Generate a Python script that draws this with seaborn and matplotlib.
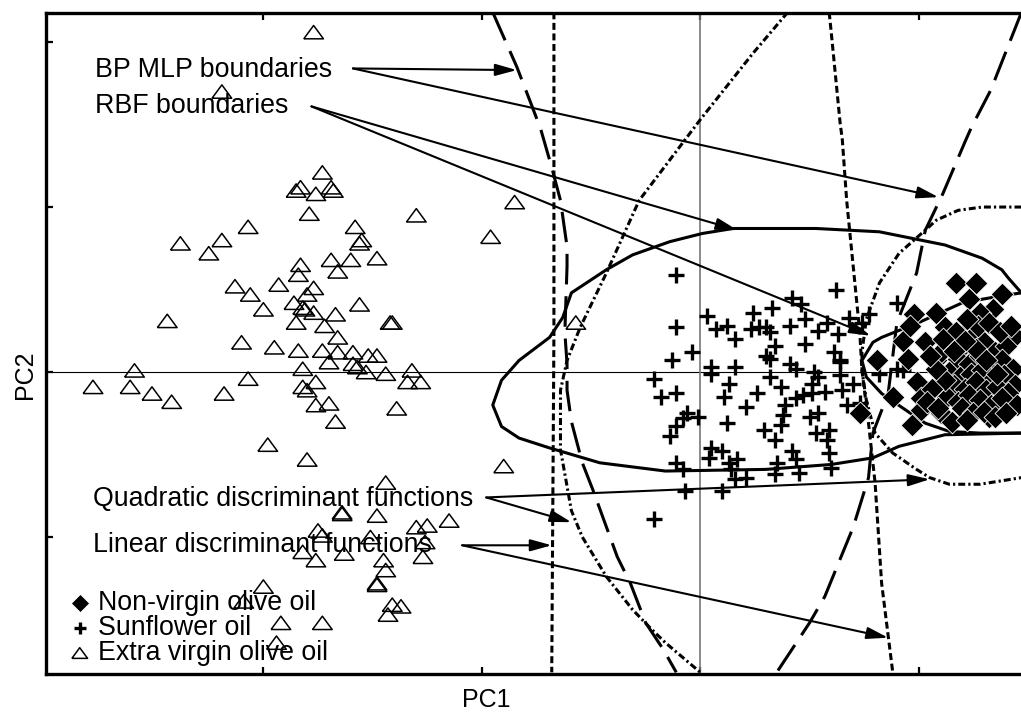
import numpy as np
import matplotlib
matplotlib.use('Agg')
import matplotlib.pyplot as plt
import pandas as pd
import seaborn as sns
import warnings
warnings.filterwarnings('ignore')

# Puntuaciones PC1 / PC2 de cada muestra.
extra_pc1 = [-1.77, -2.19, -1.73, -1.83, -1.85, -1.76, -1.69, -1.68, -1.79, -1.30,
             -0.85, -0.96, -2.07, -2.19, -2.38, -2.25, -1.58, -1.55, -1.56, -1.48,
             -1.69, -1.60, -1.83, -1.66, -1.84, -2.13, -2.06, -1.93, -1.77, -1.80,
             -1.86, -1.56, -2.00, -1.82, -1.81, -1.77, -1.67, -1.85, -1.72, -1.66,
             -1.42, -1.41, -2.44, -2.10, -1.95, -1.84, -1.73, -1.66, -1.59, -1.52,
             -1.48, -2.59, -2.78, -2.61, -2.51, -2.42, -2.18, -2.07, -1.82, -1.76,
             -1.82, -1.80, -1.76, -1.70, -1.67, -1.70, -1.59, -1.57, -1.53, -1.44,
             -1.32, -1.34, -1.28, -1.39, -1.98, -1.80, -0.90, -1.44, -1.64, -1.64,
             -1.48, -1.75, -1.30, -1.25, -1.15, -1.51, -1.73, -1.82, -1.76, -1.63,
             -1.27, -1.26, -1.45, -1.44, -1.48, -1.48, -2.00, -2.09, -1.41, -1.37,
             -1.43, -1.92, -1.73, -1.94, -0.57]
extra_pc2 = [2.06, 1.70, 1.21, 1.12, 1.10, 1.08, 1.12, 1.10, 0.96, 0.95,
             1.03, 0.82, 0.88, 0.80, 0.78, 0.72, 0.88, 0.80, 0.78, 0.69,
             0.68, 0.68, 0.65, 0.61, 0.59, 0.52, 0.47, 0.53, 0.51, 0.47,
             0.42, 0.41, 0.38, 0.39, 0.38, 0.36, 0.35, 0.30, 0.28, 0.21,
             0.30, 0.30, 0.31, 0.18, 0.15, 0.13, 0.13, 0.12, 0.12, 0.10,
             0.10, 0.01, -0.09, -0.09, -0.13, -0.18, -0.13, -0.04, 0.02, -0.06,
             -0.09, -0.11, -0.20, -0.19, -0.30, 0.06, 0.05, 0.03, 0.00, -0.01,
             0.01, -0.06, -0.06, -0.22, -0.44, -0.53, -0.57, -0.67, -0.85, -0.86,
             -0.87, -0.96, -0.94, -0.93, -0.90, -1.00, -0.99, -1.09, -1.14, -1.10,
             -1.12, -1.03, -1.14, -1.20, -1.28, -1.29, -1.30, -1.39, -1.41, -1.42,
             -1.47, -1.52, -1.52, -1.64, 0.30]

sun_pc1 = [-0.11, 0.62, 0.42, 0.46, 0.33, 0.24, 0.03, 0.68, 0.77, 0.74,
           -0.11, 0.07, 0.12, 0.16, 0.23, 0.27, 0.30, 0.32, 0.41, 0.48,
           0.54, 0.58, 0.63, 0.48, 0.34, 0.30, 0.32, 0.61, -0.04, -0.13,
           0.05, 0.05, 0.16, 0.64, 0.64, 0.41, 0.44, 0.32, 0.37, 0.52,
           0.54, 0.51, -0.21, 0.13, 0.70, 0.65, 0.57, -0.11, -0.18, 0.26,
           0.51, 0.47, 0.44, 0.11, 0.39, 0.67, 0.73, 0.21, -0.06, -0.01,
           0.38, 0.54, 0.50, -0.08, -0.11, -0.14, 0.12, 0.37, 0.29, 0.34,
           0.59, 0.53, 0.58, 0.05, 0.10, 0.04, 0.42, 0.44, 0.59, 0.35,
           0.13, 0.17, 0.14, -0.11, -0.08, 0.60, 0.45, 0.34, 0.21, 0.16,
           -0.07, 0.10, -0.21, 0.90, 0.82, 0.90, 0.93, 0.64]
sun_pc2 = [0.59, 0.50, 0.45, 0.41, 0.39, 0.36, 0.34, 0.33, 0.35, 0.30,
           0.27, 0.26, 0.28, 0.20, 0.26, 0.27, 0.27, 0.24, 0.28, 0.32,
           0.25, 0.30, 0.23, 0.17, 0.16, 0.10, 0.08, 0.12, 0.12, 0.07,
           0.03, -0.01, 0.03, 0.07, -0.02, 0.05, 0.02, -0.03, -0.09, 0.00,
           -0.03, -0.07, -0.04, -0.07, -0.07, -0.11, -0.12, -0.13, -0.15, -0.13,
           -0.13, -0.14, -0.16, -0.15, -0.20, -0.20, -0.19, -0.21, -0.25, -0.27,
           -0.26, -0.25, -0.27, -0.28, -0.33, -0.39, -0.31, -0.32, -0.35, -0.41,
           -0.35, -0.37, -0.41, -0.46, -0.48, -0.52, -0.48, -0.53, -0.49, -0.55,
           -0.55, -0.53, -0.59, -0.55, -0.59, -0.58, -0.61, -0.62, -0.64, -0.65,
           -0.72, -0.72, -0.89, 0.42, -0.01, 0.02, 0.01, 0.06]

nonv_pc1 = [1.17, 1.26, 1.23, 1.38, 1.34, 0.98, 1.08, 1.28, 0.93, 1.03,
            0.95, 1.12, 1.22, 1.44, 0.99, 0.88, 1.01, 1.01, 0.97, 1.10,
            1.22, 1.32, 1.38, 1.41, 1.12, 1.08, 0.81, 0.73, 0.96,
            1.15, 1.20, 1.25, 1.30, 1.35, 1.40, 1.18, 1.23, 1.28, 1.33,
            1.38, 1.43, 1.14, 1.19, 1.24, 1.29, 1.34, 1.39, 1.44, 1.16,
            1.21, 1.26, 1.31, 1.36, 1.41, 1.13, 1.18, 1.23, 1.28, 1.33,
            1.38, 1.20, 1.25, 1.30, 1.35, 1.27, 1.32, 1.22, 1.10, 1.12,
            1.08, 1.06, 1.05, 1.17, 1.37, 1.42, 1.45, 1.15, 1.22, 1.40,
            1.04, 1.09, 1.26, 1.31, 1.21, 1.36, 1.16, 1.11]
nonv_pc2 = [0.54, 0.54, 0.44, 0.47, 0.38, 0.35, 0.36, 0.36, 0.19, 0.18,
            0.08, 0.27, 0.25, 0.22, -0.06, -0.15, -0.16, -0.23, -0.32, -0.25,
            -0.27, -0.27, -0.20, -0.05, -0.03, 0.07, 0.07, -0.25, 0.28,
            0.20, 0.15, 0.22, 0.18, 0.12, 0.16, 0.08, 0.05, 0.10, 0.04,
            0.07, 0.02, 0.00, -0.03, -0.01, 0.01, -0.04, -0.02, -0.08, -0.08,
            -0.10, -0.06, -0.11, -0.09, -0.13, -0.15, -0.18, -0.14, -0.17, -0.20,
            -0.16, -0.22, -0.25, -0.24, -0.27, 0.28, 0.30, 0.32, 0.12, -0.05,
            0.02, -0.10, 0.10, 0.24, 0.24, 0.28, -0.20, -0.30, -0.29, -0.25,
            -0.18, -0.22, 0.14, 0.07, 0.19, -0.01, 0.13, 0.20]

# Fronteras de decisión (PC1, PC2).
mlp_left_x = [-0.95, -0.89, -0.84, -0.77, -0.73, -0.68, -0.64, -0.61, -0.61, -0.62,
              -0.61, -0.61, -0.59, -0.54, -0.49, -0.38, -0.32, -0.25, -0.17, -0.11]
mlp_left_y = [2.18, 2.00, 1.85, 1.61, 1.47, 1.24, 1.04, 0.76, 0.64, 0.24,
              0.05, -0.11, -0.30, -0.55, -0.72, -1.12, -1.28, -1.52, -1.68, -1.82]
mlp_right_x = [1.47, 1.33, 1.24, 1.21, 1.11, 1.03, 0.99, 0.90, 0.86, 0.79,
               0.77, 0.70, 0.57, 0.50, 0.44, 0.35]
mlp_right_y = [2.18, 1.71, 1.48, 1.39, 1.08, 0.86, 0.60, 0.30, -0.13, -0.37,
               -0.64, -0.94, -1.36, -1.52, -1.64, -1.82]

lin_left_x = [-0.67, -0.67, -0.68]
lin_left_y = [2.18, 0.24, -1.82]
lin_right_x = [0.59, 0.60, 0.64, 0.65, 0.67, 0.70, 0.73, 0.74, 0.77, 0.80, 0.83, 0.88]
lin_right_y = [2.18, 2.05, 1.51, 1.41, 1.04, 0.64, 0.24, 0.01, -0.31, -0.67, -1.28, -1.81]

quad_left_x = [0.40, 0.24, 0.00, -0.28, -0.43, -0.55, -0.61, -0.64, -0.64, -0.59,
               -0.54, -0.43, -0.31, -0.23, -0.16, 0.00]
quad_left_y = [2.18, 1.93, 1.53, 1.04, 0.60, 0.27, 0.07, -0.11, -0.47, -0.84,
               -1.00, -1.24, -1.44, -1.55, -1.64, -1.82]
quad_right_x = [1.47, 1.29, 1.18, 1.08, 1.03, 0.91, 0.82, 0.76, 0.74, 0.74,
                0.76, 0.80, 0.88, 0.99, 1.05, 1.14, 1.28, 1.47]
quad_right_y = [1.00, 1.00, 0.98, 0.92, 0.86, 0.72, 0.54, 0.32, 0.12, 0.01,
                -0.17, -0.37, -0.49, -0.59, -0.64, -0.68, -0.68, -0.64]

rbf_outer_x = [1.47, 1.41, 1.38, 1.29, 1.12, 0.82, 0.53, 0.15, 0.01, -0.14,
               -0.31, -0.43, -0.59, -0.63, -0.69, -0.83, -0.91, -0.95, -0.91, -0.83,
               -0.69, -0.46, -0.16, 0.30, 0.60, 0.79, 0.91, 1.12, 1.47]
rbf_outer_y = [0.48, 0.57, 0.62, 0.69, 0.77, 0.85, 0.87, 0.87, 0.84, 0.79,
               0.71, 0.62, 0.48, 0.33, 0.21, 0.07, -0.05, -0.20, -0.33, -0.40,
               -0.46, -0.55, -0.60, -0.59, -0.56, -0.52, -0.45, -0.38, -0.37]
rbf_inner_x = [1.47, 1.37, 1.20, 1.00, 0.83, 0.79, 0.74, 0.76, 0.83, 0.94,
               1.03, 1.14, 1.28, 1.47]
rbf_inner_y = [0.48, 0.46, 0.42, 0.30, 0.21, 0.18, 0.07, -0.03, -0.13, -0.23,
               -0.31, -0.36, -0.37, -0.37]

sns.set_style('ticks', {'axes.edgecolor': 'black', 'text.color': 'black',
                        'axes.labelcolor': 'black', 'xtick.color': 'black',
                        'ytick.color': 'black'})
plt.rcParams['font.family'] = ['Liberation Sans', 'DejaVu Sans']
plt.rcParams['lines.scale_dashes'] = False

fig = plt.figure(figsize=(10.21, 7.13), dpi=100)
ax = fig.add_axes([46 / 1021, 1 - 674 / 713, 975 / 1021, 661 / 713])

# Ejes cruzados en el origen.
ax.axhline(0, color='black', lw=0.8, zorder=1)
ax.axvline(0, color='#777777', lw=1.2, zorder=1)

# Fronteras.
line_kw = dict(color='black', lw=2.2, sort=False, estimator=None, legend=False, ax=ax)
long_dash = (0, (22, 8.5))
short_dash = (0, (5, 2.6))
dash_dot = (0, (5, 2.2, 1.6, 2.2))
sns.lineplot(x=mlp_left_x, y=mlp_left_y, linestyle=long_dash, **line_kw)
sns.lineplot(x=mlp_right_x, y=mlp_right_y, linestyle=long_dash, **line_kw)
sns.lineplot(x=lin_left_x, y=lin_left_y, linestyle=short_dash, **line_kw)
sns.lineplot(x=lin_right_x, y=lin_right_y, linestyle=short_dash, **line_kw)
sns.lineplot(x=quad_left_x, y=quad_left_y, linestyle=dash_dot, **line_kw)
sns.lineplot(x=quad_right_x, y=quad_right_y, linestyle=dash_dot, **line_kw)
sns.lineplot(x=rbf_outer_x, y=rbf_outer_y, linestyle='-', **line_kw)
sns.lineplot(x=rbf_inner_x, y=rbf_inner_y, linestyle='-', **line_kw)

# Muestras.
triangle = [(-1, -0.68), (1, -0.68), (0, 0.68), (-1, -0.68)]
sns.scatterplot(x=extra_pc1, y=extra_pc2, marker=triangle, s=200, color='black',
                facecolor='none', edgecolor='black', linewidth=1.1,
                label='Extra virgin olive oil', ax=ax, zorder=3)
sns.scatterplot(x=sun_pc1, y=sun_pc2, marker='+', s=120, color='black',
                linewidth=2.4, label='Sunflower oil', ax=ax, zorder=3)
sns.scatterplot(x=nonv_pc1, y=nonv_pc2, marker='D', s=135, color='black',
                edgecolor='white', linewidth=0.6, label='Non-virgin olive oil',
                ax=ax, zorder=3)

ax.set_xlim(-2.995, 1.468)
ax.set_ylim(-1.83, 2.176)
ax.set_xticks([-2, -1, 0, 1])
ax.set_yticks([-1, 0, 1, 2])
ax.tick_params(direction='in', length=5, width=1.6, top=True, right=False,
               labelbottom=False, labelleft=False)
for side in ['left', 'bottom', 'top']:
    ax.spines[side].set_linewidth(2.4)
ax.spines['right'].set_visible(False)

ax.set_xlabel('PC1', fontsize=18)
ax.set_ylabel('PC2', fontsize=18)
ax.xaxis.set_label_coords(0.452, -0.021)
ax.yaxis.set_label_coords(-0.009, 0.452)

# Anotaciones con flechas.
txt_kw = dict(fontsize=19.3, ha='left', va='baseline', zorder=5)
ax.text(-2.77, 1.79, 'BP MLP boundaries', **txt_kw)
ax.text(-2.77, 1.57, 'RBF boundaries', **txt_kw)
ax.text(-2.78, -0.81, 'Quadratic discriminant functions', **txt_kw)
ax.text(-2.78, -1.09, 'Linear discriminant functions', **txt_kw)

arrow = dict(arrowstyle='-|>,head_length=1.3,head_width=0.36', mutation_scale=10,
             color='black', lw=1.5, shrinkA=0, shrinkB=0)
for start, end in [((-1.59, 1.84), (-0.84, 1.83)),
                   ((-1.59, 1.84), (1.09, 1.06)),
                   ((-1.78, 1.61), (0.17, 0.86)),
                   ((-1.78, 1.61), (0.78, 0.22)),
                   ((-0.98, -0.76), (1.05, -0.65)),
                   ((-0.98, -0.76), (-0.59, -0.91)),
                   ((-1.09, -1.05), (-0.68, -1.05)),
                   ((-1.09, -1.05), (0.86, -1.61))]:
    ax.annotate('', xy=end, xytext=start, arrowprops=arrow, zorder=5)

# Leyenda.
handles, labels = ax.get_legend_handles_labels()
order = ['Non-virgin olive oil', 'Sunflower oil', 'Extra virgin olive oil']
handles = [handles[labels.index(name)] for name in order]
ax.legend(handles, order, loc='lower left', bbox_to_anchor=(0.0236, 0.012),
          frameon=False, fontsize=19.3, markerscale=0.8, handlelength=0.8,
          handletextpad=0.3, labelspacing=-0.03, borderpad=0, borderaxespad=0)

plt.savefig('out.png', dpi=100)
